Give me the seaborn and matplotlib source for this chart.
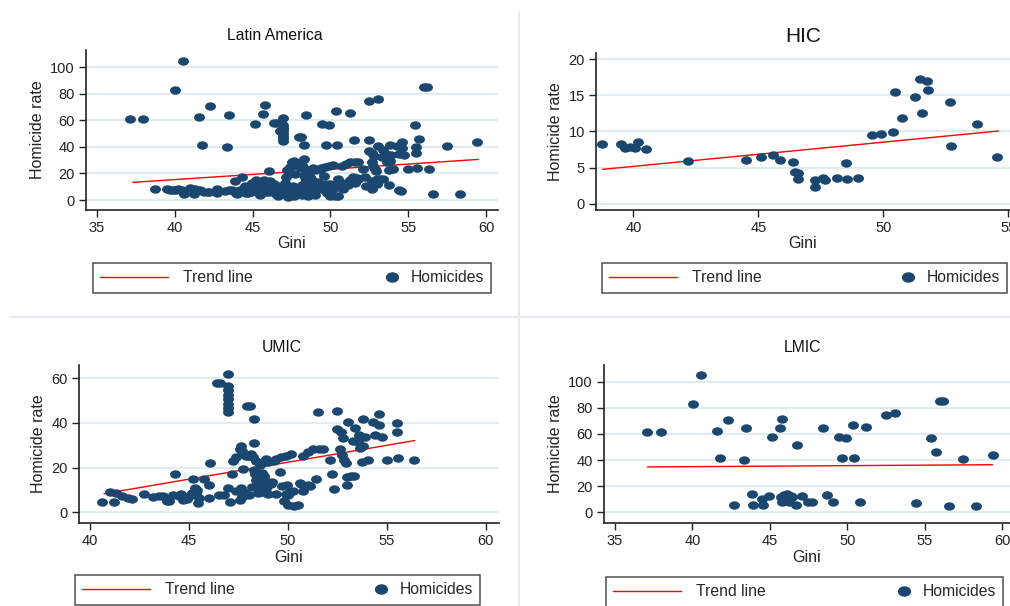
import numpy as np
import pandas as pd
import matplotlib
matplotlib.use('Agg')
import matplotlib.pyplot as plt
import matplotlib.path as mpath
from matplotlib.lines import Line2D
from matplotlib.legend_handler import HandlerLine2D
import seaborn as sns

# ---- data (Gini, homicide rate) ----
hic_gini = [38.73, 39.49, 39.67, 39.87, 40.07, 40.2, 40.49, 42.2, 44.49, 45.09,
            45.57, 45.87, 46.4, 46.47, 46.6, 46.6, 47.27, 47.27, 47.6, 47.67,
            48.16, 48.49, 48.56, 49.0, 49.53, 49.89, 50.37, 50.47, 50.76, 51.27,
            51.47, 51.73, 51.56, 51.8, 52.67, 52.69, 53.76, 54.56]
hic_hom = [8.3, 8.2, 7.65, 7.9, 7.65, 8.5, 7.5, 5.9, 6.04, 6.45,
           6.73, 6.04, 5.7, 4.33, 4.2, 3.4, 3.27, 2.35, 3.6, 3.27,
           3.6, 5.58, 3.4, 3.6, 9.5, 9.63, 9.95, 15.5, 11.9, 14.8,
           17.2, 16.9, 12.6, 15.7, 14.0, 8.0, 11.0, 6.5]

umic_gini = [40.6, 41.0, 41.2, 41.3, 41.6, 41.9, 42.1, 42.7, 43.2, 43.5,
             43.7, 43.9, 44.0, 44.2, 44.3, 44.5, 44.6, 44.7, 44.9, 45.0,
             45.15, 45.2, 45.3, 45.35, 45.4, 45.45, 45.5, 45.75, 46.05, 46.0,
             46.02, 46.4, 46.55, 46.5, 46.75, 46.95, 46.95, 46.95, 46.95, 46.95,
             46.95, 46.95, 46.95, 46.95, 47.05, 47.15, 47.2, 47.35, 47.37, 47.55,
             47.55, 47.65, 47.6, 47.7, 47.75, 47.7, 47.8, 47.9, 47.95, 48.1,
             48.05, 48.05, 48.15, 48.25, 48.2, 48.3, 48.3, 48.3, 48.35, 48.4,
             48.45, 48.5, 48.4, 48.45, 48.6, 48.65, 48.7, 48.7, 48.78, 48.8,
             48.8, 48.9, 48.9, 48.9, 48.9, 48.98, 48.97, 49.15, 49.2, 49.3,
             49.4, 49.4, 49.6, 49.65, 49.7, 49.9, 49.9, 49.95, 49.8, 50.0,
             50.0, 50.1, 50.14, 50.25, 50.3, 50.5, 50.6, 50.65, 50.76, 50.76,
             50.85, 51.0, 51.0, 51.1, 51.25, 51.4, 51.5, 51.55, 51.75, 52.1,
             52.2, 52.3, 52.45, 52.5, 52.65, 52.7, 52.75, 52.8, 52.85, 52.95,
             53.0, 53.05, 53.0, 53.2, 53.3, 53.35, 53.4, 53.55, 53.6, 53.65,
             53.75, 53.8, 53.8, 53.9, 54.05, 54.3, 54.4, 54.6, 54.6, 54.75,
             55.0, 55.5, 55.5, 55.55, 56.35]
umic_hom = [4.7, 8.9, 4.6, 8.5, 7.4, 6.2, 6.0, 8.1, 7.0, 7.2,
            7.4, 5.2, 4.9, 7.6, 17.0, 7.2, 8.3, 5.6, 6.0, 7.4,
            8.6, 15.0, 11.0, 8.1, 9.8, 4.0, 6.5, 15.0, 22.2, 12.0,
            6.4, 58.0, 58.0, 7.9, 7.9, 61.8, 56.5, 54.5, 52.5, 50.5,
            48.5, 46.5, 44.8, 10.8, 4.5, 17.0, 22.8, 9.6, 24.7, 5.7,
            28.5, 29.5, 10.9, 27.2, 19.3, 6.7, 8.9, 25.3, 47.5, 47.5,
            7.9, 25.2, 26.2, 24.7, 11.1, 41.8, 31.2, 19.0, 17.3, 14.6,
            11.9, 8.6, 23.0, 15.6, 21.3, 8.9, 17.6, 22.2, 16.1, 13.1,
            14.8, 23.8, 10.9, 8.6, 11.1, 22.3, 8.1, 12.6, 13.4, 23.0,
            23.8, 8.3, 17.8, 24.7, 11.9, 25.3, 8.1, 12.4, 5.2, 7.9,
            3.2, 8.9, 26.2, 9.4, 3.0, 3.4, 13.3, 12.5, 25.3, 9.4,
            11.9, 26.8, 12.4, 11.6, 28.3, 15.0, 45.0, 28.3, 28.3, 23.2,
            17.2, 10.4, 37.1, 45.3, 28.3, 35.7, 25.7, 33.2, 23.5, 22.0,
            12.4, 40.6, 15.6, 16.1, 32.1, 16.1, 37.6, 31.3, 34.7, 28.9,
            22.3, 41.7, 29.5, 33.6, 23.5, 40.6, 34.7, 44.0, 39.1, 33.6,
            23.5, 39.8, 35.7, 24.1, 23.2]

lmic_gini = [40.55, 40.01, 37.1, 37.97, 41.56, 42.27, 41.77, 43.45, 43.34, 45.17,
             45.65, 45.77, 46.78, 48.46, 49.47, 49.9, 49.69, 50.38, 50.44, 51.24,
             52.48, 53.06, 55.99, 56.2, 55.43, 55.71, 57.49, 59.43,
             42.7, 43.84, 43.92, 44.53, 44.59, 44.96, 45.82, 45.92, 46.14, 46.25,
             46.46, 46.72, 47.1, 47.49, 47.75, 48.72, 49.1, 50.8, 54.42, 56.6,
             58.35, 45.7, 46.36]
lmic_hom = [105.0, 83.2, 61.3, 61.3, 62.3, 70.7, 41.5, 64.4, 39.7, 57.3,
            64.6, 71.5, 51.7, 64.4, 57.3, 56.5, 41.5, 66.9, 41.5, 65.6,
            74.3, 76.1, 85.0, 85.5, 56.5, 46.3, 40.7, 43.8,
            5.6, 14.0, 5.6, 10.2, 5.6, 12.7, 7.6, 13.2, 14.0, 7.6,
            11.5, 5.6, 12.7, 8.1, 8.1, 13.5, 8.1, 8.1, 7.4, 4.8,
            4.8, 11.5, 12.2]

# trend line end points (Gini, rate) as drawn in the reference
la_trend_gini, la_trend_hom = [37.3, 59.5], [13.3, 30.6]
hic_trend_gini, hic_trend_hom = [38.76, 54.6], [4.75, 10.05]
umic_trend_gini, umic_trend_hom = [40.7, 56.4], [8.3, 32.1]
lmic_trend_gini, lmic_trend_hom = [37.1, 59.4], [34.7, 36.4]

titles = ['Latin America', 'HIC', 'UMIC', 'LMIC']


def frame(g, h):
    return pd.DataFrame({'Gini': g, 'Homicide rate': h})


la_df = frame(hic_gini + umic_gini + lmic_gini, hic_hom + umic_hom + lmic_hom)

sns.set_style('white')
plt.rcParams['font.family'] = ['Liberation Sans', 'DejaVu Sans']

navy = '#1a476f'
grid_col = '#e2ebf0'
sep_col = '#e6edf2'

circle = mpath.Path.unit_circle()
dot = mpath.Path(circle.vertices * [1.3, 1.0], circle.codes)


class DotRight(HandlerLine2D):
    # put the legend dot close to its label, like Stata does
    def get_xdata(self, legend, xdescent, ydescent, width, height, fontsize):
        xm = -xdescent + width - 0.2 * fontsize
        return [xm, xm], [xm]


fig = plt.figure(figsize=(10.1, 6.06), dpi=100)
W, H = 1010.0, 606.0


def rect(l, t, r, b):
    return [l / W, 1 - b / H, (r - l) / W, (b - t) / H]


panels = [
    (la_df, frame(la_trend_gini, la_trend_hom), rect(86, 50, 498, 210),
     (34.29, 60.77), (-7.5, 113), range(35, 61, 5), range(0, 101, 20),
     (275, 35, 11.3), rect(93, 262, 491, 294)),
    (frame(hic_gini, hic_hom), frame(hic_trend_gini, hic_trend_hom), rect(596, 53, 1010, 210),
     (38.5, 55.07), (-0.87, 20.84), range(40, 56, 5), range(0, 21, 5),
     (803, 37, 15), rect(602, 262, 1007, 294)),
    (frame(umic_gini, umic_hom), frame(umic_trend_gini, umic_trend_hom), rect(79, 365, 499, 523),
     (39.44, 60.66), (-4.8, 65.9), range(40, 61, 5), range(0, 61, 20),
     (282, 348, 11.3), rect(75, 574, 480, 606)),
    (frame(lmic_gini, lmic_hom), frame(lmic_trend_gini, lmic_trend_hom), rect(604, 365, 1010, 523),
     (34.29, 60.52), (-8.2, 112.7), range(35, 61, 5), range(0, 101, 20),
     (802, 348, 11.3), rect(606, 576, 1003, 608)),
]

for title, (df, trend, pos, xl, yl, xt, yt, tpos, lpos) in zip(titles, panels):
    ax = fig.add_axes(pos)
    sns.lineplot(data=trend, x='Gini', y='Homicide rate', ax=ax, color='red', lw=1, zorder=2)
    sns.scatterplot(data=df, x='Gini', y='Homicide rate', ax=ax, color=navy,
                    marker=dot, s=62, linewidth=0, zorder=3)
    ax.set_xlim(*xl)
    ax.set_ylim(*yl)
    ax.set_xticks(list(xt))
    ax.set_yticks(list(yt))
    ax.yaxis.grid(True, color=grid_col, lw=1.5)
    ax.xaxis.grid(False)
    ax.set_axisbelow(True)
    for s in ['top', 'right']:
        ax.spines[s].set_visible(False)
    for s in ['left', 'bottom']:
        ax.spines[s].set_color('#222222')
        ax.spines[s].set_linewidth(1.2)
    ax.tick_params(bottom=True, left=True, direction='out', length=5, width=1,
                   color='#222222', labelsize=10.5, pad=3, labelcolor='#222222')
    ax.set_xlabel('Gini', fontsize=11.5, labelpad=1, color='#222222')
    ax.set_ylabel('Homicide rate', fontsize=11.5, labelpad=4, color='#222222')
    fig.text(tpos[0] / W, 1 - tpos[1] / H, title, ha='center', va='center',
             fontsize=tpos[2], color='#111111')

    h_line = Line2D([], [], color='red', lw=1)
    h_dot = Line2D([], [], ls='', marker=dot, color=navy, ms=8.5)
    leg = ax.legend([h_line, h_dot], ['Trend line', 'Homicides'], loc='center',
                    bbox_to_anchor=lpos, bbox_transform=fig.transFigure, mode='expand',
                    ncol=2, frameon=True, fancybox=False, edgecolor='#222222',
                    handlelength=4.3, handletextpad=1.0, fontsize=11.3, borderpad=0.45,
                    borderaxespad=0, handler_map={h_dot: DotRight()})
    leg.get_frame().set_linewidth(1.1)

# panel separators
fig.add_artist(Line2D([519 / W, 519 / W], [1 - 12 / H, 0], transform=fig.transFigure,
                      color=sep_col, lw=1.5))
fig.add_artist(Line2D([10 / W, 1], [1 - 317 / H, 1 - 317 / H], transform=fig.transFigure,
                      color=sep_col, lw=1.5))

fig.savefig('out.png', dpi=100)
